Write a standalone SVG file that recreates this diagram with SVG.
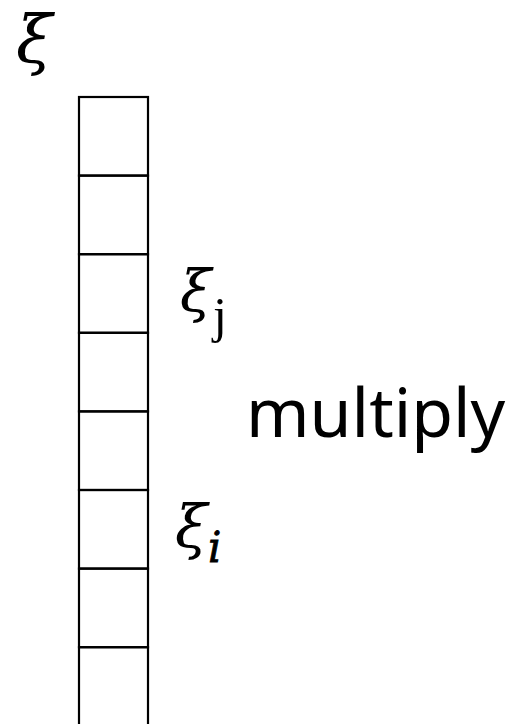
<svg xmlns="http://www.w3.org/2000/svg" width="513" height="724" viewBox="0 0 513 724">
<style>
.cell{fill:none;stroke:#000;stroke-width:2.2}
.greek{font-family:"DejaVu Serif","Liberation Serif",serif;font-style:italic;fill:#000}
.sub{font-family:"Liberation Serif","DejaVu Serif",serif;fill:#000}
.lbl{font-family:"Noto Sans","Open Sans",sans-serif;fill:#000}
</style>
<rect width="513" height="724" fill="#fff"/>
<g id="array">
<rect class="cell" x="79" y="97" width="69" height="78.6"/>
<rect class="cell" x="79" y="175.6" width="69" height="78.6"/>
<rect class="cell" x="79" y="254.2" width="69" height="78.6"/>
<rect class="cell" x="79" y="332.8" width="69" height="78.6"/>
<rect class="cell" x="79" y="411.4" width="69" height="78.6"/>
<rect class="cell" x="79" y="490" width="69" height="78.6"/>
<rect class="cell" x="79" y="568.6" width="69" height="78.6"/>
<rect class="cell" x="79" y="647.2" width="69" height="78.6"/>
</g>
<g id="label-xi"><text class="greek" x="16" y="62" font-size="66">ξ</text></g>
<g id="label-xij"><text class="greek" x="180" y="311" font-size="57">ξ</text><text class="sub" x="213" y="332" font-size="50">j</text></g>
<g id="label-multiply"><text class="lbl" x="246" y="437" font-size="68">multiply</text></g>
<g id="label-xii"><text class="greek" x="175" y="548" font-size="59">ξ</text><text class="greek" x="208" y="562" font-size="42" stroke="#000" stroke-width="0.8">i</text></g>
<g id="connectors"></g>
</svg>
